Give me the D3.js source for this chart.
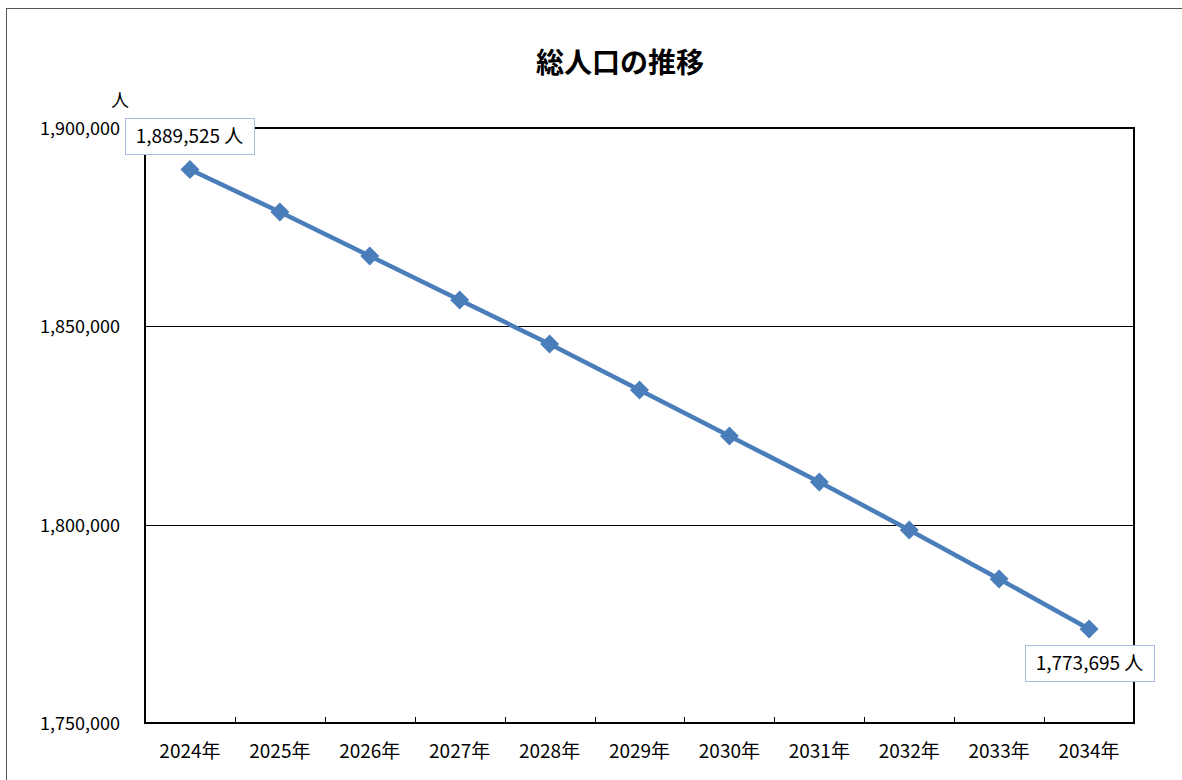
<!DOCTYPE html>
<html>
<head>
<meta charset="utf-8">
<script src="https://cdn.jsdelivr.net/npm/d3@7"></script>
<style>
  body { margin: 0; background: #fff; }
  text { font-family: "Noto Sans CJK JP", "Noto Sans", sans-serif; fill: #000; }
</style>
</head>
<body>
<div id="chart"></div>
<script>
// data
var years = ['2024年','2025年','2026年','2027年','2028年','2029年','2030年','2031年','2032年','2033年','2034年'];
var population = [1889525, 1878825, 1867733, 1856642, 1845550, 1833955, 1822359, 1810764, 1798664, 1786312, 1773695];
var yTicks = [1750000, 1800000, 1850000, 1900000];
var title = '総人口の推移';
var unit = '人';

var W = 1182, H = 780;
var plot = {left: 145, top: 128, right: 1134, bottom: 723};

var svg = d3.select('#chart').append('svg').attr('width', W).attr('height', H);

// outer chart border
svg.append('rect').attr('x', 6.5).attr('y', 8.5).attr('width', W + 10).attr('height', H + 10)
  .attr('fill', 'none').attr('stroke', '#555').attr('stroke-width', 1);

var x = d3.scaleBand().domain(years).range([plot.left, plot.right]);
var y = d3.scaleLinear().domain([1750000, 1900000]).range([plot.bottom, plot.top]);
var fmt = d3.format(',');

// gridlines
svg.append('g').selectAll('line').data(yTicks.slice(1, 3)).enter().append('line')
  .attr('x1', plot.left).attr('x2', plot.right)
  .attr('y1', function(d) { return Math.round(y(d)) + 0.5; })
  .attr('y2', function(d) { return Math.round(y(d)) + 0.5; })
  .attr('stroke', '#000').attr('stroke-width', 1);

// plot frame
svg.append('rect').attr('x', plot.left).attr('y', plot.top)
  .attr('width', plot.right - plot.left).attr('height', plot.bottom - plot.top)
  .attr('fill', 'none').attr('stroke', '#000').attr('stroke-width', 2);

// x ticks (inside, at category boundaries)
svg.append('g').selectAll('line').data(years.slice(1)).enter().append('line')
  .attr('x1', function(d) { return Math.round(x(d)) + 0.5; })
  .attr('x2', function(d) { return Math.round(x(d)) + 0.5; })
  .attr('y1', plot.bottom).attr('y2', plot.bottom - 6)
  .attr('stroke', '#000').attr('stroke-width', 1);

// x labels
svg.append('g').selectAll('text').data(years).enter().append('text')
  .attr('x', function(d) { return x(d) + x.bandwidth() / 2; })
  .attr('y', 758)
  .attr('text-anchor', 'middle').style('font-size', '19px')
  .text(function(d) { return d; });

// y labels
svg.append('g').selectAll('text').data(yTicks).enter().append('text')
  .attr('x', 120).attr('y', function(d) { return y(d) + 7; })
  .attr('text-anchor', 'end').style('font-size', '18px')
  .text(function(d) { return fmt(d); });

svg.append('text').attr('x', 120).attr('y', 107).attr('text-anchor', 'middle')
  .style('font-size', '18px').text(unit);

// title
svg.append('text').attr('x', 620).attr('y', 73).attr('text-anchor', 'middle')
  .style('font-size', '28px').style('font-weight', 'bold').text(title);

// line
var cx = function(d, i) { return x(years[i]) + x.bandwidth() / 2; };
var line = d3.line().x(function(d, i) { return cx(d, i); }).y(function(d) { return y(d); });
svg.append('path').datum(population).attr('d', line)
  .attr('fill', 'none').attr('stroke', '#4a7ebb').attr('stroke-width', 4.5);

svg.append('g').selectAll('path').data(population).enter().append('path')
  .attr('d', d3.symbol().type(d3.symbolSquare).size(180))
  .attr('transform', function(d, i) { return 'translate(' + cx(d, i) + ',' + y(d) + ') rotate(45)'; })
  .attr('fill', '#4a7ebb');

// data labels (first and last)
var labels = [
  {i: 0, x: 125, y: 118},
  {i: population.length - 1, x: 1025, y: 645}
];
labels.forEach(function(l) {
  var g = svg.append('g');
  g.append('rect').attr('x', l.x + 0.5).attr('y', l.y + 0.5).attr('width', 129).attr('height', 36)
    .attr('fill', '#fff').attr('stroke', '#a7bfde').attr('stroke-width', 1);
  g.append('text').attr('x', l.x + 64.5).attr('y', l.y + 25).attr('text-anchor', 'middle')
    .style('font-size', '19px').text(fmt(population[l.i]) + ' ' + unit);
});
</script>
</body>
</html>
